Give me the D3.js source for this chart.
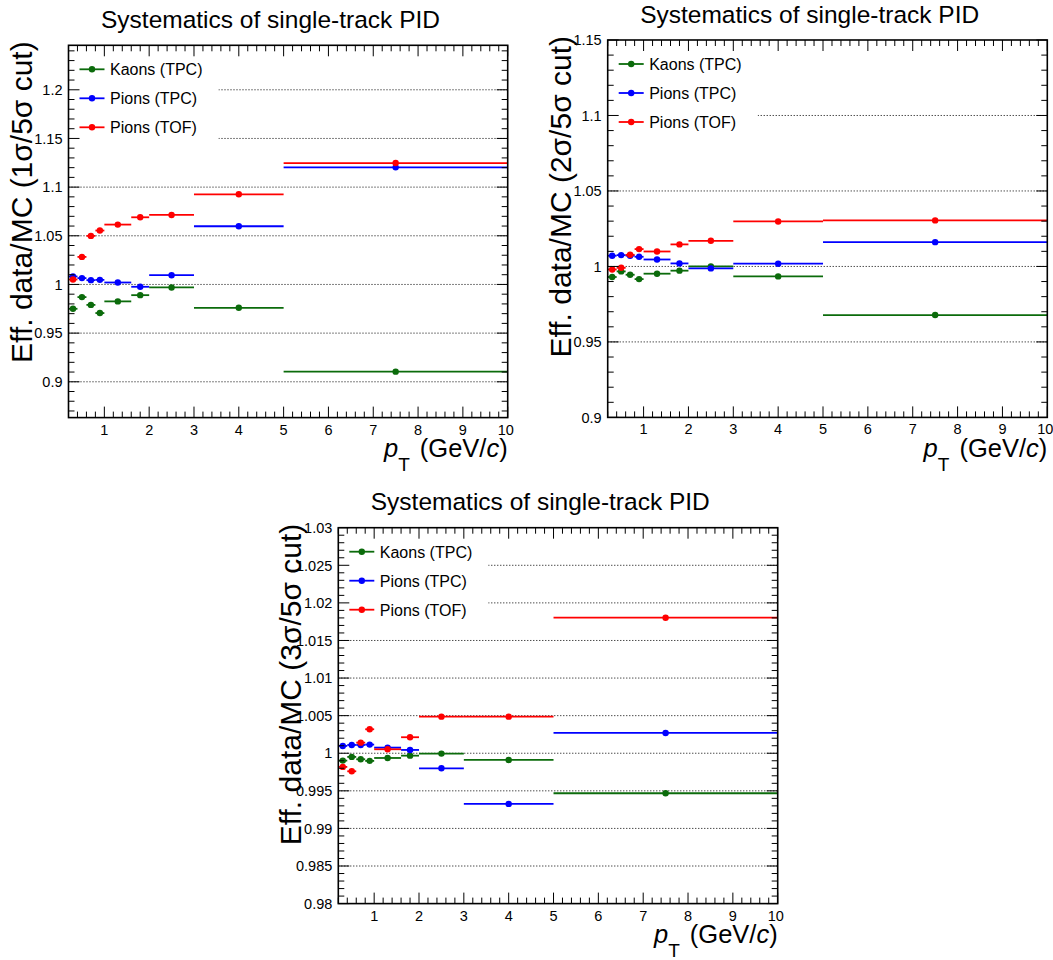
<!DOCTYPE html>
<html>
<head>
<meta charset="utf-8">
<script src="https://cdn.jsdelivr.net/npm/d3@7"></script>
<style>
  html, body { margin: 0; padding: 0; background: #fff; }
  svg { display: block; }
  text { font-family: "Liberation Sans", Arial, Helvetica, sans-serif; }
</style>
</head>
<body>
<svg id="chart" width="1053" height="960"></svg>
<script>
// ---------------- data ----------------
const binLow    = [0.2, 0.4, 0.6, 0.8, 1.0, 1.6, 2, 3, 5];
const binHigh   = [0.4, 0.6, 0.8, 1.0, 1.6, 2.0, 3, 5, 10];
const binCenter = [0.3, 0.5, 0.7, 0.9, 1.3, 1.8, 2.5, 4, 7.5];

const seriesNames  = ["Kaons (TPC)", "Pions (TPC)", "Pions (TOF)"];
const seriesColors = ["#0b6b0b", "#0000ff", "#ff0000"];

// panel 1: 1σ/5σ
const kaons1    = [0.975, 0.987, 0.979, 0.9706, 0.9826, 0.989, 0.9969, 0.976, 0.9104];
const pionsTPC1 = [1.0082, 1.0065, 1.0044, 1.0047, 1.002, 0.9976, 1.0095, 1.0598, 1.1203];
const pionsTOF1 = [1.0051, 1.0283, 1.0499, 1.0554, 1.0615, 1.069, 1.0714, 1.0926, 1.1247];

// panel 2: 2σ/5σ
const kaons2    = [0.993, 0.9967, 0.9945, 0.9916, 0.9952, 0.9972, 1.0, 0.9934, 0.9678];
const pionsTPC2 = [1.0071, 1.0075, 1.0071, 1.0064, 1.0046, 1.002, 0.9987, 1.0018, 1.0161];
const pionsTOF2 = [0.998, 0.9991, 1.0077, 1.0115, 1.0099, 1.0146, 1.017, 1.0298, 1.0305];

// panel 3: 3σ/5σ
const kaons3    = [0.99902, 0.99951, 0.9992, 0.99898, 0.99937, 0.99968, 0.99995, 0.99911, 0.99468];
const pionsTPC3 = [1.00097, 1.0011, 1.0011, 1.00115, 1.00075, 1.00044, 0.998, 0.99326, 1.0027];
const pionsTOF3 = [0.99818, 0.9976, 1.00141, 1.00319, 1.00053, 1.00213, 1.00487, 1.00487, 1.01803];

const titleText = "Systematics of single-track PID";
const yTitles = ["Eff. data/MC (1σ/5σ cut)", "Eff. data/MC (2σ/5σ cut)", "Eff. data/MC (3σ/5σ cut)"];
const xTickLabels = [1, 2, 3, 4, 5, 6, 7, 8, 9, 10];
const yTicks1 = [0.9, 0.95, 1, 1.05, 1.1, 1.15, 1.2];
const yTicks2 = [0.9, 0.95, 1, 1.05, 1.1, 1.15];
const yTicks3 = [0.98, 0.985, 0.99, 0.995, 1, 1.005, 1.01, 1.015, 1.02, 1.025, 1.03];

const xDomain = [0.2, 10];

// ---------------- layout ----------------
const panels = [
  { left: 68.5, top: 45.3, right: 507.7, bottom: 417.6, yDomain: [0.8632, 1.2457],
    yTicks: yTicks1, yMinorStep: 0.01, series: [kaons1, pionsTPC1, pionsTOF1], yTitle: yTitles[0] },
  { left: 607.7, top: 40, right: 1047.3, bottom: 417.4, yDomain: [0.9, 1.15],
    yTicks: yTicks2, yMinorStep: 0.01, series: [kaons2, pionsTPC2, pionsTOF2], yTitle: yTitles[1] },
  { left: 338.3, top: 527.7, right: 777.7, bottom: 903.6, yDomain: [0.98, 1.03],
    yTicks: yTicks3, yMinorStep: 0.001, series: [kaons3, pionsTPC3, pionsTOF3], yTitle: yTitles[2] }
];

const svg = d3.select("#chart");
svg.append("rect").attr("width", 1053).attr("height", 960).attr("fill", "#fff");

function fmt(v) { return String(+v.toFixed(4)); }

function minorValues(domain, step, majors) {
  const out = [];
  const k0 = Math.ceil(domain[0] / step - 1e-6), k1 = Math.floor(domain[1] / step + 1e-6);
  for (let k = k0; k <= k1; k++) {
    const v = k * step;
    if (!majors.some(m => Math.abs(m - v) < step * 1e-3)) out.push(v);
  }
  return out;
}

panels.forEach(p => {
  const g = svg.append("g");
  const x = d3.scaleLinear().domain(xDomain).range([p.left, p.right]);
  const y = d3.scaleLinear().domain(p.yDomain).range([p.bottom, p.top]);
  const W = p.right - p.left, H = p.bottom - p.top;

  // grid lines (dotted) at major y ticks
  g.append("g").selectAll("line").data(p.yTicks.filter(v => v > p.yDomain[0] + 1e-9 && v < p.yDomain[1] - 1e-9))
    .join("line")
    .attr("x1", p.left).attr("x2", p.right)
    .attr("y1", d => y(d)).attr("y2", d => y(d))
    .attr("stroke", "#000").attr("stroke-width", 1).attr("stroke-dasharray", "1,2");

  // legend background box (hides grid underneath)
  g.append("rect").attr("x", p.left + 1).attr("y", p.top + 1)
    .attr("width", 149).attr("height", 100).attr("fill", "#fff");

  // data: horizontal bin-width bars + markers
  p.series.forEach((vals, si) => {
    const col = seriesColors[si];
    const sg = g.append("g");
    sg.selectAll("line").data(vals).join("line")
      .attr("x1", (d, i) => x(binLow[i])).attr("x2", (d, i) => x(binHigh[i]))
      .attr("y1", d => y(d)).attr("y2", d => y(d))
      .attr("stroke", col).attr("stroke-width", 1.8);
    sg.selectAll("circle").data(vals).join("circle")
      .attr("cx", (d, i) => x(binCenter[i])).attr("cy", d => y(d))
      .attr("r", 3.2).attr("fill", col);
  });

  // legend
  seriesNames.forEach((name, si) => {
    const ly = p.top + 24 + si * 29;
    g.append("line").attr("x1", p.left + 11).attr("x2", p.left + 36)
      .attr("y1", ly).attr("y2", ly).attr("stroke", seriesColors[si]).attr("stroke-width", 1.8);
    g.append("circle").attr("cx", p.left + 23.5).attr("cy", ly).attr("r", 3.2).attr("fill", seriesColors[si]);
    g.append("text").attr("x", p.left + 41.5).attr("y", ly + 6)
      .attr("font-size", 16).attr("fill", "#000").text(name);
  });

  // ticks
  const xMajors = xTickLabels;
  const xMinors = minorValues(xDomain, 0.2, xMajors);
  const yMinors = minorValues(p.yDomain, p.yMinorStep, p.yTicks);
  const tg = g.append("g").attr("stroke", "#000").attr("stroke-width", 1);
  const majLen = 11, minLen = 6;
  // bottom & top
  [[xMajors, majLen], [xMinors, minLen]].forEach(([vals, len]) => {
    tg.append("g").selectAll("line").data(vals).join("line")
      .attr("x1", d => x(d)).attr("x2", d => x(d))
      .attr("y1", p.bottom).attr("y2", p.bottom - len);
    tg.append("g").selectAll("line").data(vals).join("line")
      .attr("x1", d => x(d)).attr("x2", d => x(d))
      .attr("y1", p.top).attr("y2", p.top + len);
  });
  // left & right
  [[p.yTicks, majLen], [yMinors, minLen]].forEach(([vals, len]) => {
    tg.append("g").selectAll("line").data(vals).join("line")
      .attr("y1", d => y(d)).attr("y2", d => y(d))
      .attr("x1", p.left).attr("x2", p.left + len);
    tg.append("g").selectAll("line").data(vals).join("line")
      .attr("y1", d => y(d)).attr("y2", d => y(d))
      .attr("x1", p.right).attr("x2", p.right - len);
  });

  // frame
  g.append("rect").attr("x", p.left).attr("y", p.top).attr("width", W).attr("height", H)
    .attr("fill", "none").attr("stroke", "#000").attr("stroke-width", 1.6);

  // tick labels
  g.append("g").selectAll("text").data(xTickLabels).join("text")
    .attr("x", d => x(d) - (d === 10 ? 2 : 0)).attr("y", p.bottom + 17)
    .attr("text-anchor", "middle").attr("font-size", 14.5).attr("fill", "#000")
    .text(d => d);
  g.append("g").selectAll("text").data(p.yTicks).join("text")
    .attr("x", p.left - 6).attr("y", d => y(d)).attr("dy", "0.36em")
    .attr("text-anchor", "end").attr("font-size", 14.5).attr("fill", "#000")
    .text(d => fmt(d));

  // title
  g.append("text").attr("x", p.left + 202).attr("y", p.top - 17.5)
    .attr("text-anchor", "middle").attr("font-size", 24.5).attr("fill", "#000")
    .text(titleText);

  // y title
  g.append("text")
    .attr("transform", `translate(${p.left - 37},${p.top - 4}) rotate(-90)`)
    .attr("text-anchor", "end").attr("font-size", 30).attr("fill", "#000")
    .text(p.yTitle);

  // x title: p_T (GeV/c)
  const xt = g.append("text").attr("x", p.right).attr("y", p.bottom + 39.5)
    .attr("text-anchor", "end").attr("font-size", 25.5).attr("fill", "#000");
  xt.append("tspan").attr("font-style", "italic").text("p");
  xt.append("tspan").attr("font-size", 19).attr("dy", 14).text("T");
  xt.append("tspan").attr("dy", -14).attr("dx", 3).text(" (GeV/");
  xt.append("tspan").attr("font-style", "italic").text("c");
  xt.append("tspan").text(")");
});
</script>
</body>
</html>
